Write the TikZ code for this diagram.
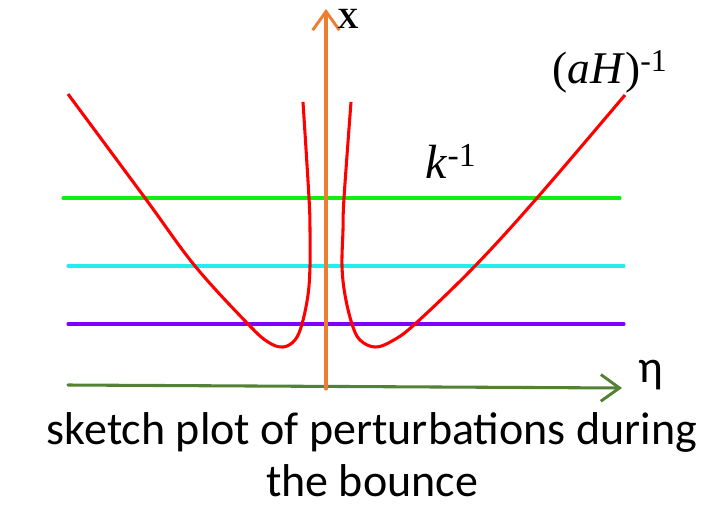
\documentclass[tikz,border=0pt]{standalone}
\usepackage{amsmath}
\usepackage{fontspec}
\usepackage{tikz}
\usetikzlibrary{arrows.meta}
\usepackage{tkz-euclide}
\newfontfamily\capfont{Carlito}
\newfontfamily\serfont{Liberation Serif}
\definecolor{axisorange}{HTML}{ED7D31}
\definecolor{axisgreen}{HTML}{548235}
\definecolor{modegreen}{HTML}{11EE11}
\definecolor{modecyan}{HTML}{22EEEE}
\definecolor{modepurple}{HTML}{8000FF}
\tikzset{
  barb/.style={-{Straight Barb[length=14pt,width=20pt,line width=2.2pt]}},
  hubble/.style={red, line width=2.3pt, smooth, tension=0.6},
  mode/.style={line width=2.3pt}
}
\begin{document}
\begin{tikzpicture}[x=0.75pt, y=-0.75pt]
                \useasboundingbox (0,0) rectangle (707,508);
                \tkzDefPoints{326/389/X_0, 326/9/X_1, 68/385/E_0, 622/388/E_1}
                \tkzDefPoints{63/198/G_0, 620/198/G_1, 68/266/C_0, 624/266/C_1, 68/324/P_0, 624/324/P_1}
                \tkzDrawSegment[modegreen, mode](G_0,G_1)
                \tkzDrawSegment[modecyan, mode](C_0,C_1)
                \tkzDrawSegment[modepurple, mode](P_0,P_1)
                \draw[hubble] plot coordinates {(68,94) (145,198) (195,266) (248,324) (268,342) (283,347) (295,340) (302,324) (308,295) (310,266) (310,230) (309,198) (303,102)};
                \draw[hubble] plot coordinates {(351,102) (344,198) (343,230) (342,266) (345,295) (352,324) (360,340) (375,347) (392,341) (415,324) (475,266) (537,198) (625,95)};
                \tkzDrawSegment[axisgreen, line width=2.3pt, barb](E_0,E_1)
                \tkzDrawSegment[axisorange, line width=2.3pt, barb](X_0,X_1)
                \node[font=\serfont\bfseries\fontsize{22}{22}\selectfont, inner sep=0pt] (xlab) at (348,19) {X};
                \node[font=\capfont\fontsize{34.5}{39}\selectfont, inner sep=0pt] (etalab) at (651,375) {η};
                \node[font=\serfont\fontsize{34}{34}\selectfont] (hlab) at (610,72) {(\textit{aH})\textsuperscript{-1}};
                \node[font=\serfont\fontsize{36}{36}\selectfont] (klab) at (451,161) {\textit{k}\textsuperscript{-1}};
                \node[font=\capfont\fontsize{34.5}{39}\selectfont, align=center, inner sep=0pt] (cap) at (372,455) {sketch plot of perturbations during\\the bounce};
            \end{tikzpicture}
\end{document}
